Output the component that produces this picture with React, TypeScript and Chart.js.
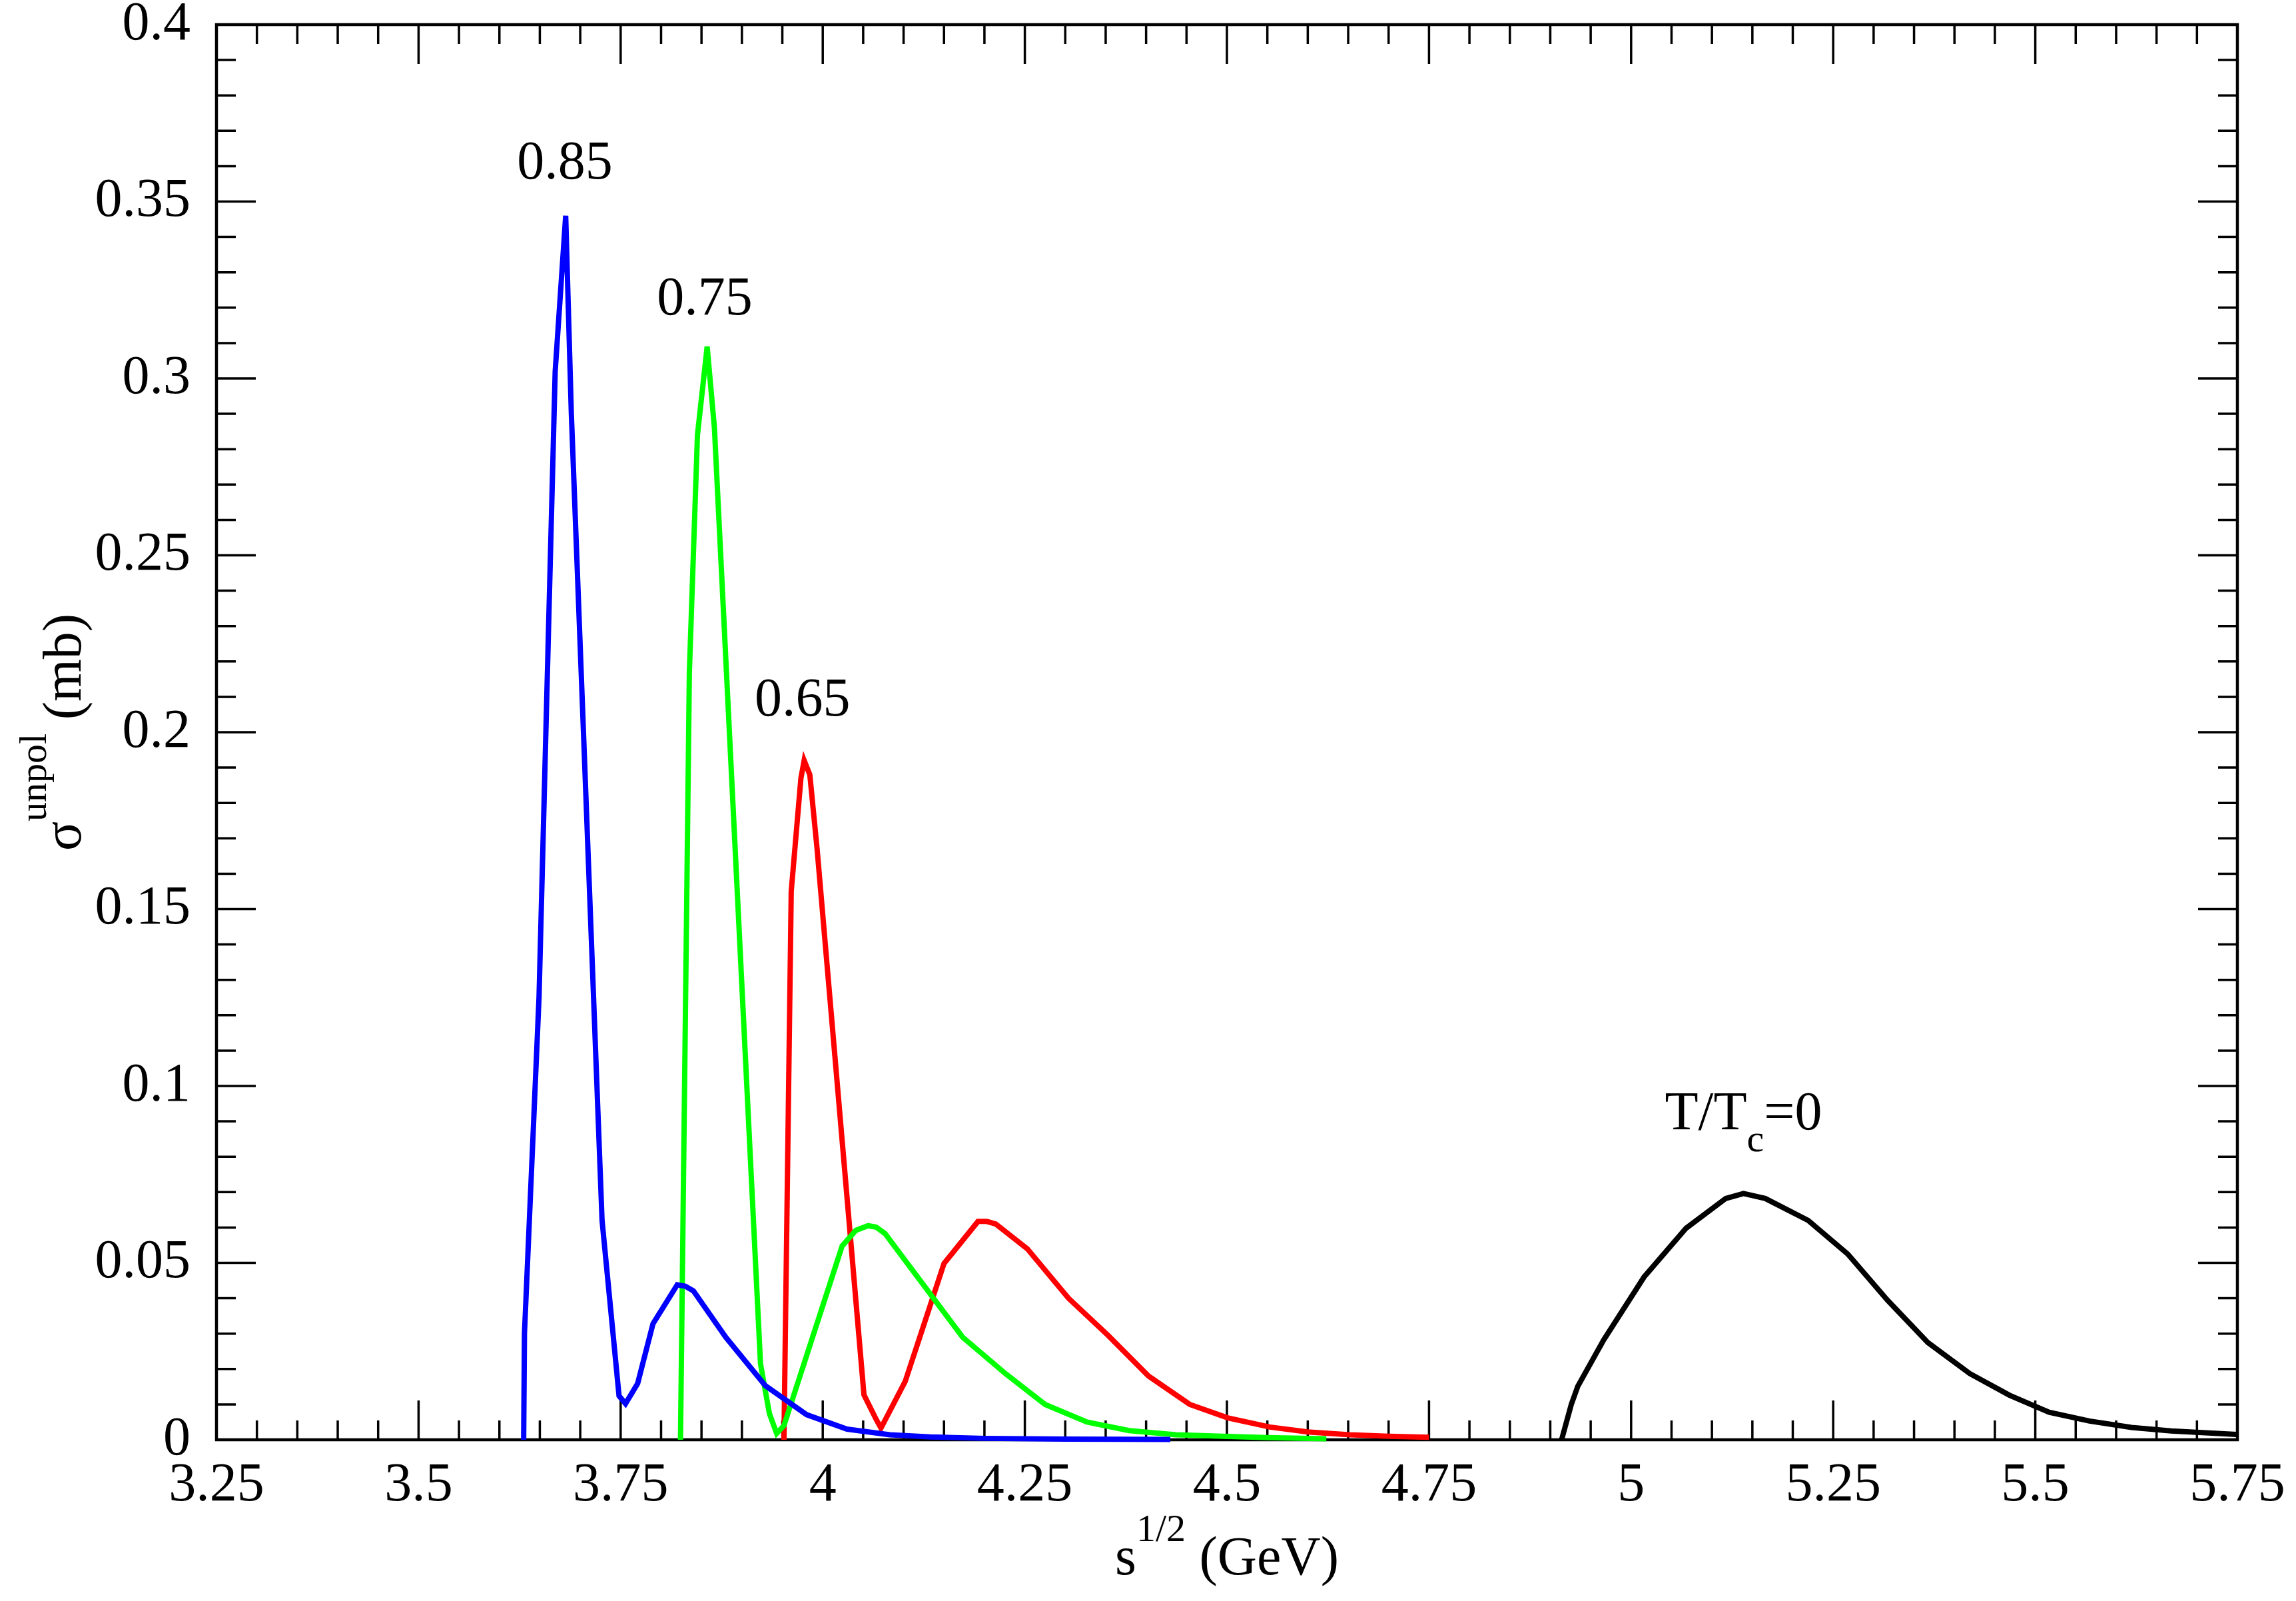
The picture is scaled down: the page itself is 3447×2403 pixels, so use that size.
import { useEffect, useRef } from 'react';
import { Chart, registerables } from 'chart.js';

// Register all Chart.js components
Chart.register(...registerables);

const FONT = '"Liberation Serif", "Times New Roman", serif';
const FONT_SIZE = 82;
const SMALL_SIZE = 58;

// T/Tc = 0.85 (blue)
const sqrtS085 = [3.630, 3.631, 3.649, 3.669, 3.682, 3.689, 3.727, 3.748, 3.756, 3.771, 3.790, 3.820, 3.830, 3.840, 3.880, 3.929, 3.980, 4.030, 4.083, 4.133, 4.200, 4.300, 4.430];
const sigma085 = [0, 0.030, 0.125, 0.302, 0.346, 0.290, 0.062, 0.0124, 0.0102, 0.0159, 0.0328, 0.0438, 0.0434, 0.0421, 0.029, 0.0153, 0.0071, 0.0030, 0.0014, 0.0008, 0.0004, 0.0002, 0.0001];

// T/Tc = 0.75 (green)
const sqrtS075 = [3.824, 3.835, 3.845, 3.857, 3.866, 3.923, 3.934, 3.943, 3.952, 4.024, 4.041, 4.056, 4.066, 4.077, 4.173, 4.226, 4.275, 4.327, 4.379, 4.437, 4.495, 4.550, 4.623];
const sigma075 = [0, 0.217, 0.284, 0.309, 0.286, 0.0215, 0.0074, 0.0018, 0.004, 0.0548, 0.0592, 0.0605, 0.0601, 0.0583, 0.029, 0.0187, 0.010, 0.005, 0.0026, 0.0014, 0.001, 0.0006, 0.0003];

// T/Tc = 0.65 (red)
const sqrtS065 = [3.952, 3.961, 3.973, 3.977, 3.984, 3.993, 4.051, 4.066, 4.072, 4.102, 4.150, 4.192, 4.203, 4.214, 4.253, 4.304, 4.353, 4.403, 4.454, 4.501, 4.553, 4.600, 4.652, 4.700, 4.750];
const sigma065 = [0, 0.155, 0.187, 0.192, 0.188, 0.167, 0.0127, 0.0058, 0.0033, 0.0165, 0.0498, 0.0617, 0.0617, 0.061, 0.054, 0.040, 0.0295, 0.018, 0.010, 0.0062, 0.0036, 0.0022, 0.0014, 0.0010, 0.0007];

// T/Tc = 0 (black)
const sqrtS000 = [4.914, 4.926, 4.934, 4.966, 5.016, 5.068, 5.117, 5.139, 5.166, 5.219, 5.268, 5.317, 5.367, 5.419, 5.468, 5.517, 5.567, 5.619, 5.668, 5.749];
const sigma000 = [0, 0.0100, 0.0151, 0.0282, 0.046, 0.0598, 0.0682, 0.0696, 0.0682, 0.062, 0.0525, 0.0395, 0.0275, 0.0187, 0.0126, 0.0078, 0.0053, 0.0035, 0.0025, 0.0015];

// axis ranges and tick steps
const X_MIN = 3.25, X_MAX = 5.75, X_MAJOR = 0.25, X_MINOR = 0.05;
const Y_MIN = 0, Y_MAX = 0.4, Y_MAJOR = 0.05, Y_MINOR = 0.01;

// curve annotations (data coordinates: centre x, baseline y)
const curveLabelText = ['0.85', '0.75', '0.65'];
const curveLabelX = [3.681, 3.854, 3.975];
const curveLabelY = [0.3565, 0.318, 0.2047];
const zeroLabelX = 5.139;
const zeroLabelY = 0.0878;

type Run = { text: string; size: number; rise: number };

function drawRuns(ctx: CanvasRenderingContext2D, runs: Run[], cx: number, baseline: number) {
  const widths = runs.map((r) => {
    ctx.font = `${r.size}px ${FONT}`;
    return ctx.measureText(r.text).width;
  });
  const total = widths.reduce((a, b) => a + b, 0);
  let x = cx - total / 2;
  runs.forEach((r, i) => {
    ctx.font = `${r.size}px ${FONT}`;
    ctx.fillText(r.text, x, baseline - r.rise);
    x += widths[i];
  });
}

const framePlugin = {
  id: 'frame',
  beforeDatasetsDraw(chart: any) {
    const { ctx, chartArea: a, scales } = chart;
    const xs = scales.x, ys = scales.y;
    ctx.save();
    ctx.strokeStyle = '#000';
    ctx.lineWidth = 3.5;
    ctx.beginPath();
    const nx = Math.round((X_MAX - X_MIN) / X_MINOR);
    for (let i = 0; i <= nx; i++) {
      const px = xs.getPixelForValue(X_MIN + i * X_MINOR);
      const len = i % Math.round(X_MAJOR / X_MINOR) === 0 ? 59 : 29;
      ctx.moveTo(px, a.bottom);
      ctx.lineTo(px, a.bottom - len);
      ctx.moveTo(px, a.top);
      ctx.lineTo(px, a.top + len);
    }
    const ny = Math.round((Y_MAX - Y_MIN) / Y_MINOR);
    for (let i = 0; i <= ny; i++) {
      const py = ys.getPixelForValue(Y_MIN + i * Y_MINOR);
      const len = i % Math.round(Y_MAJOR / Y_MINOR) === 0 ? 59 : 29;
      ctx.moveTo(a.left, py);
      ctx.lineTo(a.left + len, py);
      ctx.moveTo(a.right, py);
      ctx.lineTo(a.right - len, py);
    }
    ctx.stroke();
    ctx.lineWidth = 4.5;
    ctx.strokeRect(a.left, a.top, a.right - a.left, a.bottom - a.top);
    ctx.restore();
  },
  afterDraw(chart: any) {
    const { ctx, chartArea: a, scales } = chart;
    const xs = scales.x, ys = scales.y;
    ctx.save();
    ctx.fillStyle = '#000';
    ctx.textBaseline = 'alphabetic';
    ctx.textAlign = 'left';

    // x axis title
    drawRuns(ctx, [
      { text: 's', size: FONT_SIZE, rise: 0 },
      { text: '1/2', size: SMALL_SIZE, rise: 50 },
      { text: ' (GeV)', size: FONT_SIZE, rise: 0 },
    ], (a.left + a.right) / 2, a.bottom + 202);

    // y axis title
    ctx.save();
    ctx.translate(a.left - 204, (a.top + a.bottom) / 2);
    ctx.rotate(-Math.PI / 2);
    drawRuns(ctx, [
      { text: 'σ', size: FONT_SIZE, rise: 0 },
      { text: 'unpol', size: SMALL_SIZE, rise: 52 },
      { text: ' (mb)', size: FONT_SIZE, rise: 0 },
    ], 0, 0);
    ctx.restore();

    // curve labels
    curveLabelText.forEach((t, i) => {
      drawRuns(ctx, [{ text: t, size: FONT_SIZE, rise: 0 }],
        xs.getPixelForValue(curveLabelX[i]), ys.getPixelForValue(curveLabelY[i]));
    });
    drawRuns(ctx, [
      { text: 'T/T', size: FONT_SIZE, rise: 0 },
      { text: 'c', size: SMALL_SIZE, rise: -33 },
      { text: '=0', size: FONT_SIZE, rise: 0 },
    ], xs.getPixelForValue(zeroLabelX), ys.getPixelForValue(zeroLabelY));
    ctx.restore();
  },
};

const toPoints = (xs: number[], ys: number[]) => xs.map((x, i) => ({ x, y: ys[i] }));

const fmt = (v: number | string) => String(Number(Number(v).toFixed(2)));

export default function App() {
  const chartRef = useRef<HTMLCanvasElement>(null);
  const chartInstance = useRef<Chart | null>(null);

  useEffect(() => {
    document.body.style.margin = '0';
    document.body.style.overflow = 'hidden';
    if (!chartRef.current) return;
    const ctx = chartRef.current.getContext('2d');
    if (!ctx) return;
    if (chartInstance.current) chartInstance.current.destroy();

    const line = (data: { x: number; y: number }[], color: string) => ({
      data,
      borderColor: color,
      backgroundColor: color,
      borderWidth: 8,
      showLine: true,
      pointRadius: 0,
      tension: 0,
      clip: false as const,
    });

    chartInstance.current = new Chart(ctx, {
      type: 'scatter',
      data: {
        datasets: [
          line(toPoints(sqrtS085, sigma085), '#0000ff'),
          line(toPoints(sqrtS075, sigma075), '#00ff00'),
          line(toPoints(sqrtS065, sigma065), '#ff0000'),
          line(toPoints(sqrtS000, sigma000), '#000000'),
        ] as any,
      },
      options: {
        animation: false,
        responsive: true,
        maintainAspectRatio: false,
        layout: { padding: { top: 37, right: 88, left: 0, bottom: 0 } },
        plugins: {
          legend: { display: false },
          tooltip: { enabled: false },
        },
        scales: {
          x: {
            type: 'linear',
            min: X_MIN,
            max: X_MAX,
            grid: { display: false },
            border: { display: false },
            ticks: {
              stepSize: X_MAJOR,
              autoSkip: false,
              maxRotation: 0,
              minRotation: 0,
              maxTicksLimit: 30,
              padding: 12,
              color: '#000',
              font: { family: FONT, size: FONT_SIZE, lineHeight: 1.2 },
              callback: (v) => fmt(v),
            },
            afterFit: (scale: any) => {
              scale.height = 242;
              scale.paddingLeft = 0;
              scale.paddingRight = 0;
            },
          },
          y: {
            type: 'linear',
            min: Y_MIN,
            max: Y_MAX,
            grid: { display: false },
            border: { display: false },
            ticks: {
              stepSize: Y_MAJOR,
              autoSkip: false,
              maxTicksLimit: 30,
              padding: 31,
              color: '#000',
              font: { family: FONT, size: FONT_SIZE, lineHeight: 1.2 },
              callback: (v) => fmt(v),
            },
            afterFit: (scale: any) => {
              scale.width = 325;
              scale.paddingTop = 0;
              scale.paddingBottom = 0;
            },
          },
        },
      },
      plugins: [framePlugin],
    });

    return () => {
      if (chartInstance.current) {
        chartInstance.current.destroy();
        chartInstance.current = null;
      }
    };
  }, []);

  return (
    <div style={{ width: 3447, height: 2403, position: 'relative', background: '#fff' }}>
      <canvas ref={chartRef} />
    </div>
  );
}
